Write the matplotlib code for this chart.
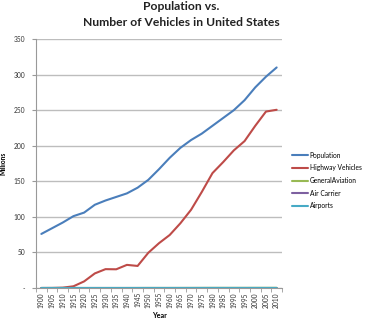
import matplotlib
matplotlib.use("Agg")
import matplotlib.pyplot as plt
import numpy as np

plt.rcParams["font.family"] = ["Lato", "DejaVu Sans"]

years = list(range(1900, 2011, 5))
population = [76, 84, 92, 101, 106, 117, 123, 128, 133, 141, 152, 167, 183, 197, 208, 217,
              228, 239, 250, 264, 282, 297, 310]
highway_vehicles = [0.01, 0.08, 0.5, 2.4, 9.3, 20.5, 26.5, 26.3, 32.5, 31, 49.5, 63, 74.5,
                    91, 110, 135, 161.5, 177, 193.5, 206.5, 228, 248, 250.5]
general_aviation = [0, 0, 0, 0, 0, 0, 0.01, 0.02, 0.02, 0.04, 0.09, 0.08, 0.08, 0.1, 0.13,
                    0.17, 0.21, 0.2, 0.2, 0.19, 0.22, 0.22, 0.22]
air_carrier = [0, 0, 0, 0, 0, 0, 0, 0, 0, 0, 0, 0, 0, 0, 0, 0, 0, 0, 0.01, 0.01, 0.01,
               0.01, 0.01]
airports = [0, 0, 0, 0, 0, 0, 0, 0, 0, 0, 0.01, 0.01, 0.01, 0.01, 0.01, 0.01, 0.02, 0.02,
            0.02, 0.02, 0.02, 0.02, 0.02]

series = [
    ("Population", population, "#4a7ebb"),
    ("Highway Vehicles", highway_vehicles, "#be4b48"),
    ("GeneralAviation", general_aviation, "#98b954"),
    ("Air Carrier", air_carrier, "#7d60a0"),
    ("Airports", airports, "#46aac5"),
]

W, H = 365, 323
fig = plt.figure(figsize=(W / 100, H / 100), dpi=100)
ax = fig.add_axes([36 / W, (H - 288) / H, (282 - 36) / W, (288 - 39) / H])

x = np.arange(len(years))
for name, vals, color in series:
    ax.plot(x, vals, color=color, lw=1.5, label=name, solid_capstyle="round")

ax.set_xlim(-0.5, len(years) - 0.5)
ax.set_ylim(0, 350)
ax.set_yticks(range(0, 351, 50))
ax.set_yticklabels(["-"] + [str(v) for v in range(50, 351, 50)])
ax.yaxis.grid(True, color="#bdbdbd", lw=1.0)
ax.set_axisbelow(True)

ax.set_xticks(x)
ax.set_xticklabels([str(y) for y in years], rotation=90)
ax.set_xticks(np.arange(-0.5, len(years), 1), minor=True)
ax.tick_params(axis="x", which="major", length=0, labelsize=4.8, pad=3, colors="#333333")
ax.tick_params(axis="x", which="minor", length=3, color="#999999")
ax.tick_params(axis="y", length=3, color="#999999", labelsize=4.8, colors="#333333", pad=5)

for side in ("top", "right"):
    ax.spines[side].set_visible(False)
for side in ("left", "bottom"):
    ax.spines[side].set_color("#999999")
    ax.spines[side].set_linewidth(0.8)

ax.set_xlabel("Year", fontsize=5.2, fontweight="bold", labelpad=3)
ax.set_ylabel("Millions", fontsize=4.8, fontweight="bold", labelpad=5)

fig.text(181 / W, 1 - 7 / H, "Population vs.", ha="center", va="center",
         fontsize=8.7, fontweight="bold", color="#222222")
fig.text(181 / W, 1 - 22.5 / H, "Number of Vehicles in United States", ha="center",
         va="center", fontsize=8.7, fontweight="bold", color="#222222")

fig.legend(loc="upper left", bbox_to_anchor=(287 / W, 1 - 147 / H), frameon=False,
           fontsize=4.8, handlelength=2.4, handletextpad=0.3, labelspacing=0.85,
           borderpad=0.2)

fig.savefig("out.png", dpi=100)
